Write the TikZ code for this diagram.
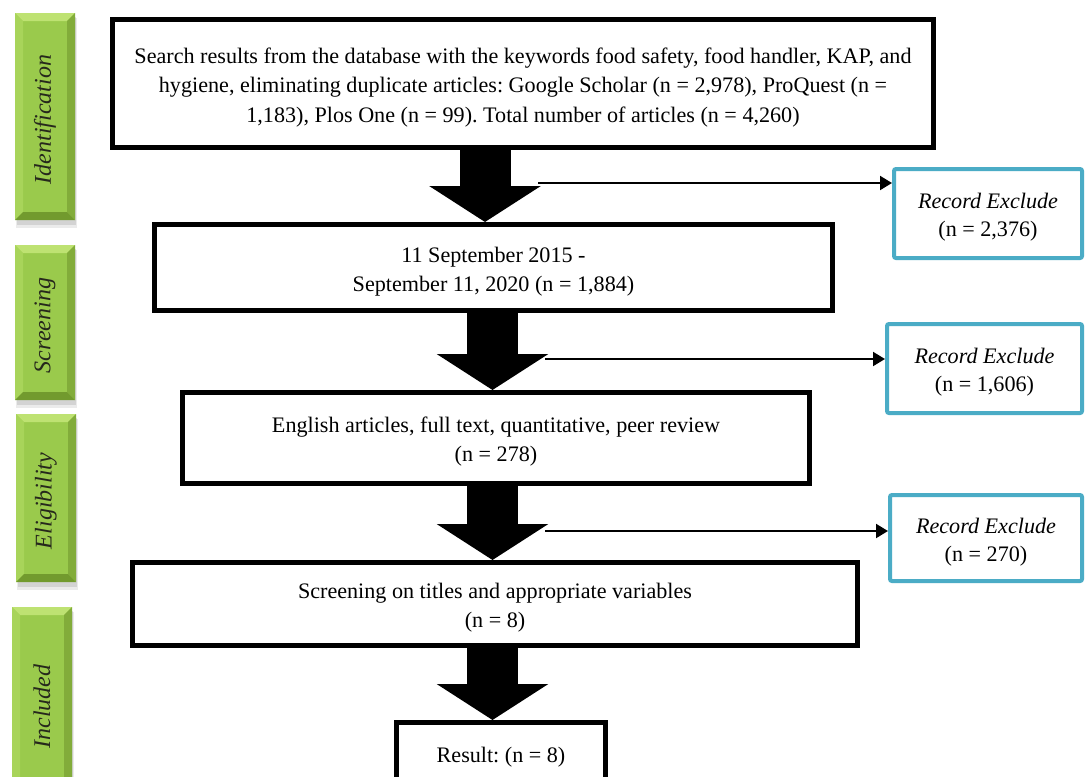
\documentclass[tikz,border=0pt]{standalone}
\usepackage{fontspec}
\setmainfont{Liberation Serif}
\usetikzlibrary{arrows.meta,calc}
\frenchspacing
\definecolor{exclteal}{RGB}{75,172,198}
\definecolor{gface}{RGB}{154,202,76}
\definecolor{gtop}{RGB}{190,226,114}
\definecolor{gleft}{RGB}{168,212,90}
\definecolor{gright}{RGB}{130,172,58}
\definecolor{gbot}{RGB}{114,154,46}
\definecolor{glabtxt}{RGB}{38,40,28}
\newcommand\tstrut{\rule{0pt}{17.5pt}}
\tikzset{
  mainbox/.style={draw=black, line width=3.75pt, fill=white, inner sep=0pt,
    align=center, font=\fontsize{16.6}{22}\selectfont},
  exclbox/.style={draw=exclteal, line width=3pt, rounded corners=1.5pt, fill=white,
    inner sep=0pt, align=center, font=\fontsize{16.6}{21}\selectfont},
  fatarrow/.style={draw=black, line width=38.25pt, -{Triangle[length=27pt,width=82.5pt]}},
  thinarrow/.style={draw=black, line width=1.5pt, -{Triangle[length=9pt,width=10.5pt]}},
  glabeltext/.style={rotate=90, text=glabtxt, inner sep=0pt,
    font=\fontsize{18}{20}\selectfont\itshape}
}
\newcommand\glabel[6]{%
  \fill[black,opacity=.08] (#2+1,#3+5) rectangle (#4+2,#5+8);
  \fill[black,opacity=.10] (#2+2,#3+4) rectangle (#4+1,#5+5);
  \fill[gface] (#2,#3) rectangle (#4,#5);
  \fill[gtop] (#2,#3) -- (#4,#3) -- (#4-8,#3+8) -- (#2+8,#3+8) -- cycle;
  \fill[gleft] (#2,#3) -- (#2+8,#3+8) -- (#2+8,#5-8) -- (#2,#5) -- cycle;
  \fill[gright] (#4,#3) -- (#4-8,#3+8) -- (#4-8,#5-8) -- (#4,#5) -- cycle;
  \fill[gbot] (#2,#5) -- (#2+8,#5-8) -- (#4-8,#5-8) -- (#4,#5) -- cycle;
  \node[glabeltext] (#1) at ({(#2+#4)/2},{(#3+#5)/2+3}) {#6};
}
\begin{document}
\begin{tikzpicture}[x=0.75pt,y=-0.75pt]
\clip (0,0) rectangle (1086,776);
\fill[white] (0,0) rectangle (1086,776);

% phase labels
\glabel{lid}{15}{13}{75}{220}{Identification}
\glabel{lsc}{15}{245}{75}{400}{Screening}
\glabel{lel}{16}{414}{76}{582}{Eligibility}
\glabel{lin}{12}{607}{72}{800}{Included}

% main boxes
\node[mainbox, minimum width=615.75pt, minimum height=96pt] (b1) at (523,83.5)
  {\tstrut Search results from the database with the keywords food safety, food handler, KAP, and\\
   hygiene, eliminating duplicate articles: Google Scholar (n = 2,978), ProQuest (n =\\
   1,183), Plos One (n = 99). Total number of articles (n = 4,260)};
\node[mainbox, minimum width=508.5pt, minimum height=64.5pt] (b2) at (493.5,267.5)
  {\tstrut 11 September 2015 -\\ September 11, 2020 (n = 1,884)};
\node[mainbox, minimum width=470.25pt, minimum height=68.25pt] (b3) at (496,438)
  {\tstrut English articles, full text, quantitative, peer review\\ (n = 278)};
\node[mainbox, minimum width=543.75pt, minimum height=62.25pt] (b4) at (495,604)
  {\tstrut Screening on titles and appropriate variables\\ (n = 8)};
\node[mainbox, minimum width=156.75pt, minimum height=48.75pt] (b5) at (501,755)
  {\rule{0pt}{14.5pt}Result: (n = 8)};

% exclusion boxes
\node[exclbox, minimum width=141pt, minimum height=66.75pt] (r1) at (988,213.5)
  {\tstrut\textit{Record Exclude}\\ (n = 2,376)};
\node[exclbox, minimum width=146.25pt, minimum height=66.75pt] (r2) at (984.5,368.5)
  {\tstrut\textit{Record Exclude}\\ (n = 1,606)};
\node[exclbox, minimum width=144pt, minimum height=64.5pt] (r3) at (986,538)
  {\tstrut\textit{Record Exclude}\\ (n = 270)};

% fat arrows
\coordinate (x1) at (485,0);
\coordinate (x2) at (492.5,0);
\draw[fatarrow] (b1.south -| x1) -- (b2.north -| x1);
\draw[fatarrow] (b2.south -| x2) -- (b3.north -| x2);
\draw[fatarrow] (b3.south -| x2) -- (b4.north -| x2);
\draw[fatarrow] (b4.south -| x2) -- (b5.north -| x2);

% thin arrows
\coordinate (t1) at (538,183);
\coordinate (t2) at (545,359);
\coordinate (t3) at (545,531);
\draw[thinarrow] (t1) -- (t1 -| r1.west);
\draw[thinarrow] (t2) -- (t2 -| r2.west);
\draw[thinarrow] (t3) -- (t3 -| r3.west);
\end{tikzpicture}
\end{document}
